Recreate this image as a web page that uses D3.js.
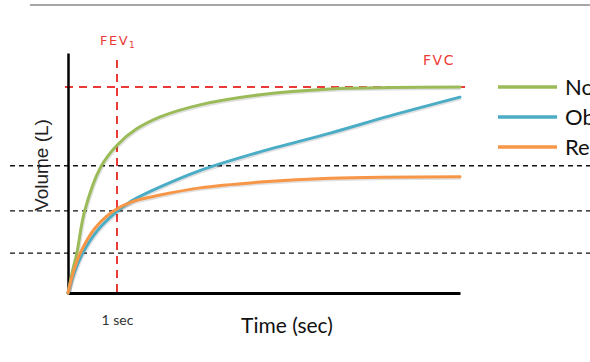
<!DOCTYPE html>
<html>
<head>
<meta charset="utf-8">
<script src="https://cdn.jsdelivr.net/npm/d3@7"></script>
<style>
  body { margin: 0; background: #fff; }
  svg { display: block; }
</style>
</head>
<body>
<figure id="spiro" style="margin:0"></figure>
<script>
// time in seconds, volume in litres
const normalTime = [0, 0.09, 0.18, 0.34, 0.67, 1, 1.4, 1.88, 2.69, 3.92, 5.35, 6.6, 8];
const normalVol  = [0, 0.45, 0.83, 1.71, 2.63, 3.08, 3.42, 3.67, 3.92, 4.13, 4.25, 4.28, 4.29];

const obstructTime = [0, 0.12, 0.3, 0.6, 1, 1.3, 1.88, 2.69, 3.92, 5.35, 6.57, 8];
const obstructVol  = [0, 0.40, 0.83, 1.30, 1.70, 1.92, 2.21, 2.55, 2.94, 3.33, 3.69, 4.08];

const restrictTime = [0, 0.1, 0.25, 0.55, 0.93, 1.3, 1.88, 2.69, 3.92, 5.35, 8];
const restrictVol  = [0, 0.40, 0.83, 1.35, 1.71, 1.90, 2.04, 2.19, 2.31, 2.39, 2.42];

const seriesNames  = ["Normal", "Obstructive", "Restrictive"];
const seriesColors = ["#9bbb59", "#4bacc6", "#f79646"];

const fvcLevel = 4.29;
const fev1Time = 1;
const guideLevels = [2.65, 1.71, 0.83];

const width = 590, height = 362;

const svg = d3.select("figure#spiro")
  .append("svg")
  .attr("width", width)
  .attr("height", height);

const x = d3.scaleLinear().domain([0, 8]).range([68, 460]);
const y = d3.scaleLinear().domain([0, 5]).range([293, 53]);

// top rule
svg.append("line")
  .attr("x1", 30).attr("x2", width)
  .attr("y1", 5).attr("y2", 5)
  .attr("stroke", "#8a8a8a").attr("stroke-width", 1.5);

// black dashed guides
svg.append("g")
  .selectAll("line")
  .data(guideLevels)
  .enter()
  .append("line")
    .attr("x1", 10).attr("x2", width)
    .attr("y1", d => y(d)).attr("y2", d => y(d))
    .attr("stroke", "#111").attr("stroke-width", 1.4)
    .attr("stroke-dasharray", "5,4");

// FVC / FEV1 markers
const red = "#ec3b36";
svg.append("line")
  .attr("x1", x(0) - 3).attr("x2", 465)
  .attr("y1", y(fvcLevel)).attr("y2", y(fvcLevel))
  .attr("stroke", red).attr("stroke-width", 2)
  .attr("stroke-dasharray", "8,6");

svg.append("line")
  .attr("x1", x(fev1Time)).attr("x2", x(fev1Time))
  .attr("y1", 60).attr("y2", y(0))
  .attr("stroke", red).attr("stroke-width", 2)
  .attr("stroke-dasharray", "8,6");

const fev = svg.append("text")
  .attr("x", 100).attr("y", 45)
  .style("font", "13px 'DejaVu Sans'")
  .attr("letter-spacing", 1.5)
  .attr("fill", red)
  .text("FEV");
fev.append("tspan").attr("dy", 3).style("font-size", "9px").text("1");

svg.append("text")
  .attr("x", 423).attr("y", 65)
  .style("font", "14px 'DejaVu Sans'")
  .attr("letter-spacing", 1.5)
  .attr("fill", red)
  .text("FVC");

// axes
const xAxis = svg.append("g")
  .attr("transform", "translate(0," + y(0) + ")")
  .call(d3.axisBottom(x).tickValues([1]).tickSize(0).tickSizeOuter(0)
    .tickPadding(22).tickFormat(() => "1 sec"));
xAxis.select(".domain").attr("stroke", "#000").attr("stroke-width", 3);
xAxis.selectAll(".tick text")
  .style("font", "14px Lato").attr("fill", "#333");

const yAxis = svg.append("g")
  .attr("transform", "translate(" + x(0) + ",0)")
  .call(d3.axisLeft(y).tickValues([]).tickSizeOuter(0));
yAxis.select(".domain").attr("stroke", "#000").attr("stroke-width", 2.5);

// curves
const line = d3.line()
  .x(d => x(d[0]))
  .y(d => y(d[1]))
  .curve(d3.curveCatmullRom.alpha(0.5));

const series = [
  d3.zip(normalTime, normalVol),
  d3.zip(obstructTime, obstructVol),
  d3.zip(restrictTime, restrictVol)
];

// faint shadow first, then the coloured lines
svg.append("g")
  .selectAll("path")
  .data(series)
  .enter()
  .append("path")
    .attr("d", line)
    .attr("transform", "translate(1,1.5)")
    .attr("fill", "none")
    .attr("stroke", "rgba(0,0,0,0.12)")
    .attr("stroke-width", 3);

svg.append("g")
  .selectAll("path")
  .data(series)
  .enter()
  .append("path")
    .attr("d", line)
    .attr("fill", "none")
    .attr("stroke", (d, i) => seriesColors[i])
    .attr("stroke-width", 3)
    .attr("stroke-linecap", "round");

// legend (labels run past the right edge, as in the source image)
const legend = svg.append("g")
  .selectAll("g")
  .data(seriesNames)
  .enter()
  .append("g")
    .attr("transform", (d, i) => "translate(498," + (87 + i * 30) + ")");

legend.append("line")
  .attr("x1", 0).attr("x2", 59)
  .attr("stroke", (d, i) => seriesColors[i])
  .attr("stroke-width", 3.5);

legend.append("text")
  .attr("x", 67).attr("dy", "0.35em")
  .style("font", "22px Lato")
  .attr("fill", "#111")
  .text(d => d);

// axis titles
svg.append("text")
  .style("font", "19px 'Liberation Sans'")
  .attr("text-anchor", "middle")
  .attr("fill", "#222")
  .attr("transform", "translate(48,165)rotate(-90)")
  .text("Volume (L)");

svg.append("text")
  .style("font", "21px Lato")
  .attr("text-anchor", "middle")
  .attr("fill", "#111")
  .attr("x", 287).attr("y", 333)
  .text("Time (sec)");
</script>
</body>
</html>
